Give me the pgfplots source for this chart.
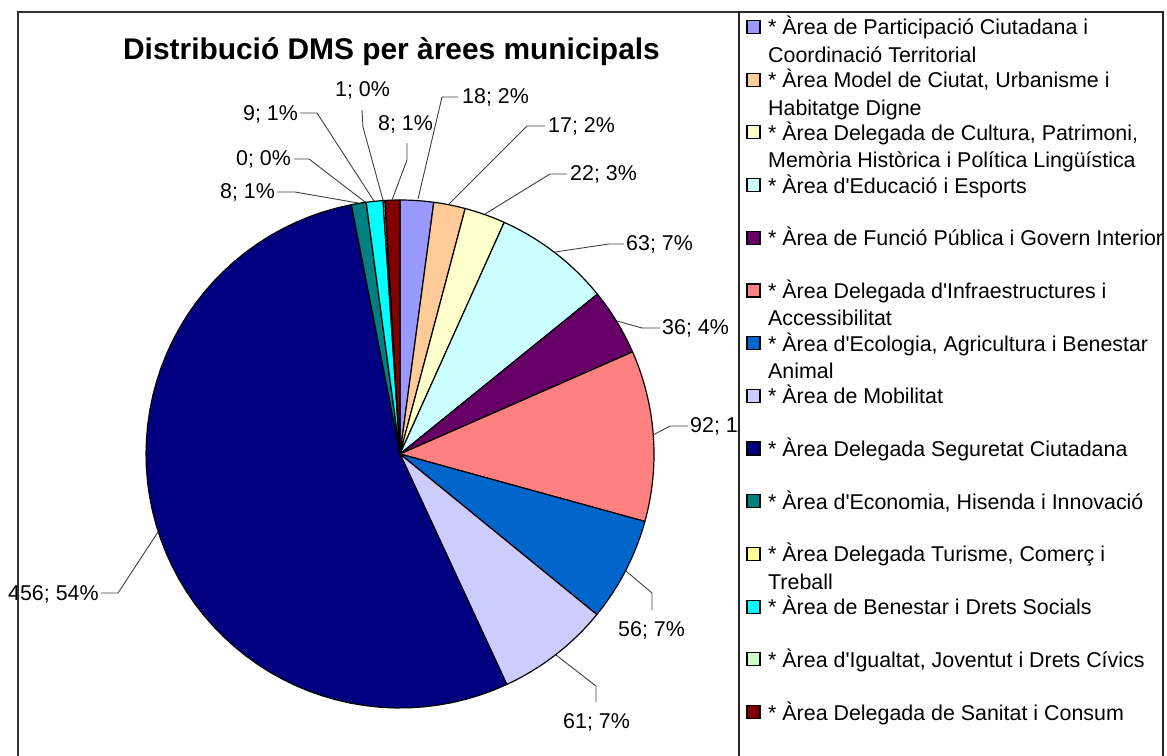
\documentclass[border=0pt]{standalone}
\usepackage{pgfplots}
\pgfplotsset{compat=1.18}
\usepackage{pgfplotstable}
\usepackage{fontspec}
\setmainfont{Liberation Sans}[Ligatures=TeXOff]

\definecolor{pc0}{HTML}{9999FF}
\definecolor{pc1}{HTML}{FFCC99}
\definecolor{pc2}{HTML}{FFFFCC}
\definecolor{pc3}{HTML}{CCFFFF}
\definecolor{pc4}{HTML}{660066}
\definecolor{pc5}{HTML}{FF8080}
\definecolor{pc6}{HTML}{0066CC}
\definecolor{pc7}{HTML}{CCCCFF}
\definecolor{pc8}{HTML}{000080}
\definecolor{pc9}{HTML}{008080}
\definecolor{pc10}{HTML}{FFFF99}
\definecolor{pc11}{HTML}{00FFFF}
\definecolor{pc12}{HTML}{CCFFCC}
\definecolor{pc13}{HTML}{800000}

% slice values (order of the legend, clockwise from 12 o'clock)
\pgfplotstableread{
v
18
17
22
63
36
92
56
61
456
8
0
9
1
8
}\piedata

\newcommand\lfont{\fontsize{21.4}{26}\selectfont}
\tikzset{leader/.style={draw=black!75, line width=0.9pt},
         lbl/.style={anchor=base west, inner sep=0pt, font=\lfont}}

\newcommand\legent[4]{%
  \pgfmathsetmacro\by{35+52.7*#1}%
  \draw[fill=#2, draw=black, line width=1.2pt] (747,\by-14.5) rectangle (760,\by-1.5);
  \node[lbl] at (768,\by) {#3};
  \node[lbl] at (768,\by+27.5) {#4};
}

\begin{document}
\begin{tikzpicture}
\pgfmathsetmacro\total{0}
\pgfplotsforeachungrouped \i in {0,...,13}{%
  \pgfplotstablegetelem{\i}{v}\of\piedata
  \pgfmathsetmacro\total{\total+\pgfplotsretval}%
}
\begin{axis}[scale only axis, width=1167pt, height=755pt,
  xmin=0, xmax=1167, ymin=0, ymax=755, y dir=reverse,
  hide axis, clip=false]
\def\cum{0}
\pgfplotsforeachungrouped \i in {0,...,13}{%
  \pgfplotstablegetelem{\i}{v}\of\piedata
  \let\val=\pgfplotsretval
  \pgfmathsetmacro\a{\cum/\total*360}%
  \pgfmathsetmacro\cum{\cum+\val}%
  \pgfmathsetmacro\b{\cum/\total*360}%
  \ifdim\val pt>0pt
    \edef\temp{\noexpand\addplot[fill=pc\i, draw=black, line width=1.2pt,
      line join=round, domain=\a:\b, samples=60]
      ({400+254*sin(x)}, {454-254*cos(x)}) -- (axis cs:400,454) -- cycle;}%
    \temp
  \fi
}
% data labels and leader lines
\draw[leader] (axis cs:418,199) -- (axis cs:442,97) -- (axis cs:458,97);
\node[lbl] at (axis cs:462,103) {18; 2\%};
\draw[leader] (axis cs:449,204) -- (axis cs:527,126) -- (axis cs:545,126);
\node[lbl] at (axis cs:548,132) {17; 2\%};
\draw[leader] (axis cs:485,214) -- (axis cs:550,174) -- (axis cs:567,174);
\node[lbl] at (axis cs:570,180) {22; 3\%};
\draw[leader] (axis cs:555,252) -- (axis cs:609,244) -- (axis cs:624,244);
\node[lbl] at (axis cs:626,250) {63; 7\%};
\draw[leader] (axis cs:617,321) -- (axis cs:642,328) -- (axis cs:660,328);
\node[lbl] at (axis cs:662,334) {36; 4\%};
\draw[leader] (axis cs:653,435) -- (axis cs:670,426) -- (axis cs:688,426);
\node[lbl] at (axis cs:690,432) {92; 11\%};
\draw[leader] (axis cs:626,571) -- (axis cs:652,593) -- (axis cs:652,610);
\node[lbl] at (axis cs:618,636) {56; 7\%};
\draw[leader] (axis cs:556,655) -- (axis cs:596,686) -- (axis cs:596,702);
\node[lbl] at (axis cs:563,728) {61; 7\%};
\draw[leader] (axis cs:158,532) -- (axis cs:118,593) -- (axis cs:101,593);
\node[lbl] at (axis cs:8,600) {456; 54\%};
\draw[leader] (axis cs:358,203) -- (axis cs:295,192) -- (axis cs:277,192);
\node[lbl] at (axis cs:220,198) {8; 1\%};
\draw[leader] (axis cs:365,202) -- (axis cs:309,159) -- (axis cs:294,159);
\node[lbl] at (axis cs:236,165) {0; 0\%};
\draw[leader] (axis cs:374,201) -- (axis cs:317,113) -- (axis cs:300,113);
\node[lbl] at (axis cs:243,120) {9; 1\%};
\draw[leader] (axis cs:383,200) -- (axis cs:363,127) -- (axis cs:362,110);
\node[lbl] at (axis cs:335,96) {1; 0\%};
\draw[leader] (axis cs:392,200) -- (axis cs:407,160) -- (axis cs:407,143);
\node[lbl] at (axis cs:378,130) {8; 1\%};
% title
\node[anchor=base, inner sep=0pt, font=\bfseries\fontsize{29.9}{34}\selectfont]
  at (axis cs:391.5,59) {Distribució DMS per àrees municipals};
\end{axis}

\begin{scope}[x=1pt, y=-1pt, yshift=755pt]
  % outer chart frame
  \draw[line width=1.3pt, draw=black!80] (18,780) -- (18,12) -- (1163,12) -- (1163,780);
  % legend box
  \fill[white] (739,12) rectangle (1163,780);
  \draw[line width=1.2pt, draw=black!85] (739,780) -- (739,12) -- (1163,12) -- (1163,780);
  \begin{scope}
    \clip (739,12) rectangle (1162.4,780);
    \legent{0}{pc0}{* Àrea de Participació Ciutadana i}{Coordinació Territorial}
    \legent{1}{pc1}{* Àrea Model de Ciutat, Urbanisme i}{Habitatge Digne}
    \legent{2}{pc2}{* Àrea Delegada de Cultura, Patrimoni,}{Memòria Històrica i Política Lingüística}
    \legent{3}{pc3}{* Àrea d'Educació i Esports}{}
    \legent{4}{pc4}{* Àrea de Funció Pública i Govern Interior}{}
    \legent{5}{pc5}{* Àrea Delegada d'Infraestructures i}{Accessibilitat}
    \legent{6}{pc6}{* Àrea d'Ecologia, Agricultura i Benestar}{Animal}
    \legent{7}{pc7}{* Àrea de Mobilitat}{}
    \legent{8}{pc8}{* Àrea Delegada Seguretat Ciutadana}{}
    \legent{9}{pc9}{* Àrea d'Economia, Hisenda i Innovació}{}
    \legent{10}{pc10}{* Àrea Delegada Turisme, Comerç i}{Treball}
    \legent{11}{pc11}{* Àrea de Benestar i Drets Socials}{}
    \legent{12}{pc12}{* Àrea d'Igualtat, Joventut i Drets Cívics}{}
    \legent{13}{pc13}{* Àrea Delegada de Sanitat i Consum}{}
  \end{scope}
\end{scope}
\pgfresetboundingbox
\useasboundingbox (0,0) rectangle (1167pt,755pt);
\end{tikzpicture}
\end{document}
